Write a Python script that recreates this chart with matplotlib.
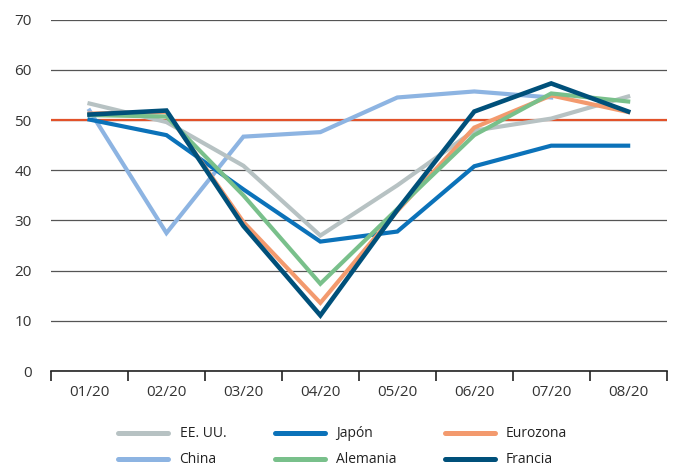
import numpy as np
import matplotlib.pyplot as plt
from matplotlib.lines import Line2D

months = ["01/20", "02/20", "03/20", "04/20", "05/20", "06/20", "07/20", "08/20"]
eeuu = [53.3, 49.6, 40.9, 27.0, 37.0, 47.9, 50.3, 54.7]
japon = [50.1, 47.0, 36.2, 25.8, 27.8, 40.8, 44.9, 44.9]
eurozona = [51.3, 51.6, 29.7, 13.6, 31.9, 48.5, 54.9, 51.6]
china = [51.9, 27.5, 46.7, 47.6, 54.5, 55.7, 54.5, np.nan]
alemania = [51.0, 50.7, 35.0, 17.4, 32.3, 47.0, 55.3, 53.7]
francia = [51.1, 51.9, 28.9, 11.1, 32.1, 51.7, 57.3, 51.7]

series = [
    ("EE. UU.", eeuu, "#b7c2c3", 3.0),
    ("China", china, "#8db4e2", 3.0),
    ("Japón", japon, "#0b72b9", 3.0),
    ("Alemania", alemania, "#79c08b", 3.0),
    ("Eurozona", eurozona, "#f39a6e", 3.0),
    ("Francia", francia, "#00507a", 3.3),
]
draw_order = ["China", "EE. UU.", "Japón", "Eurozona", "Alemania", "Francia"]

plt.rcParams['font.family'] = ['Open Sans', 'DejaVu Sans']

fig = plt.figure(figsize=(6.75, 4.68), dpi=100)
ax = fig.add_axes([0.0756, 0.207, 0.912, 0.751])

x = np.arange(len(months))
ax.axhline(50, color="#e2522a", lw=1.6, zorder=2)
style = {name: (vals, c, lw) for name, vals, c, lw in series}
for name in draw_order:
    vals, c, lw = style[name]
    ax.plot(x, vals, color=c, lw=lw, solid_joinstyle="miter", zorder=3)

ax.set_ylim(0, 70)
ax.set_xlim(-0.5, len(months) - 0.5)
ax.set_yticks(range(0, 71, 10))
ax.yaxis.grid(True, color="#555555", lw=0.9)
ax.set_axisbelow(True)
ax.tick_params(axis="y", length=0, labelsize=11, labelcolor="#333333", pad=14)
ax.set_xticks(x)
ax.set_xticklabels(months)
ax.set_xticks(np.arange(-0.5, len(months), 1), minor=True)
ax.tick_params(axis="x", which="major", length=0, labelsize=11, labelcolor="#333333", pad=10)
ax.tick_params(axis="x", which="minor", length=7, width=1.2, color="#222222", direction="out")
for s in ["top", "right", "left"]:
    ax.spines[s].set_visible(False)
ax.spines["bottom"].set_color("#222222")
ax.spines["bottom"].set_linewidth(1.2)

handles = [Line2D([0], [0], color=c, lw=3.6, solid_capstyle="round") for _, _, c, _ in series]
labels = [n for n, _, _, _ in series]
fig.legend(handles, labels, ncol=3, loc="center", bbox_to_anchor=(0.508, 0.045),
           frameon=False, fontsize=10, handlelength=3.6, handletextpad=0.8,
           columnspacing=3.5, labelspacing=0.8, labelcolor="#222222")

fig.savefig("out.png", dpi=100)
